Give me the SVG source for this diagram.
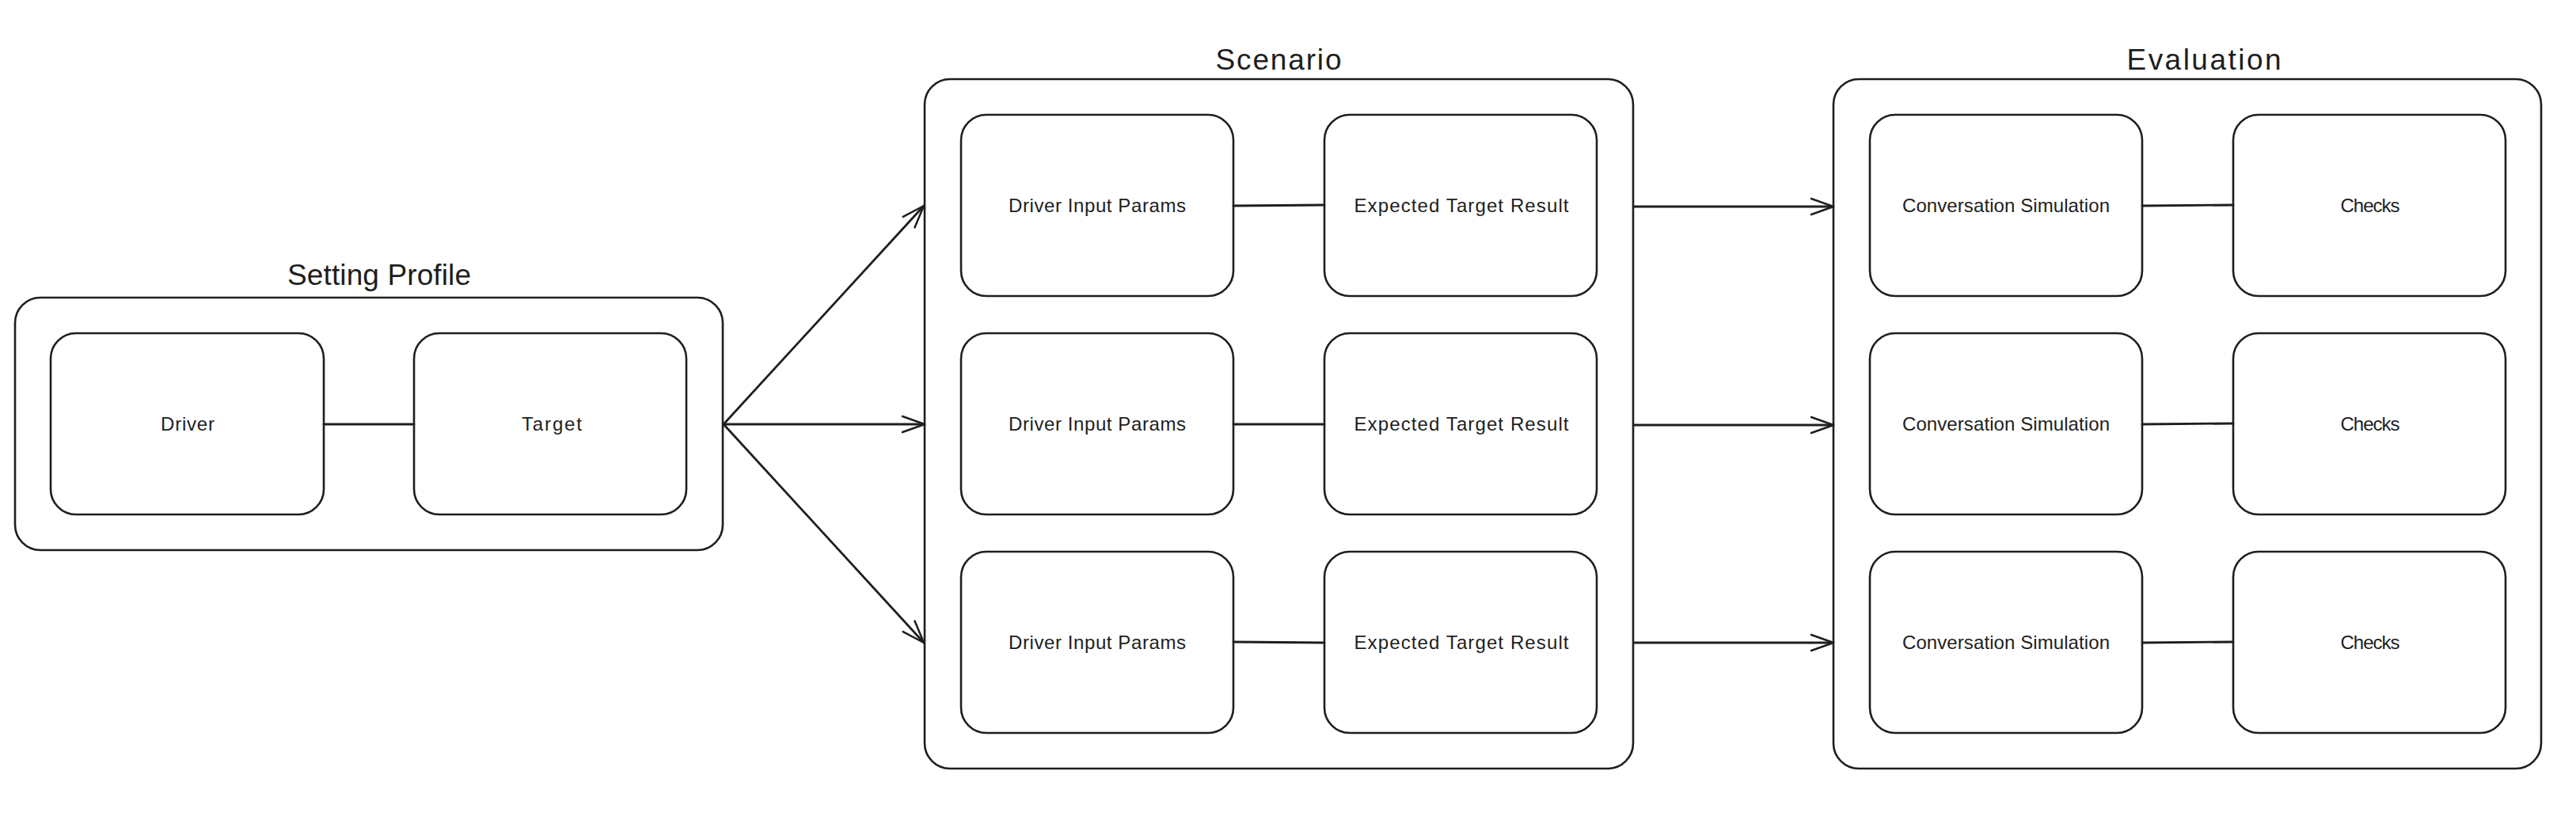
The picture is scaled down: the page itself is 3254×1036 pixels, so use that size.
<svg xmlns="http://www.w3.org/2000/svg" width="3254" height="1036" viewBox="0 0 3254 1036">
<style>
.box{fill:#ffffff;stroke:#1e1e1e;stroke-width:2.6}
.lbl{font-family:"Liberation Sans",Arial,sans-serif;font-size:24px;fill:#1e1e1e;text-anchor:middle}
.ttl{font-family:"Liberation Sans",Arial,sans-serif;font-size:37px;fill:#1e1e1e;text-anchor:middle}
.ln{stroke:#1e1e1e;stroke-width:2.8;fill:none;stroke-linecap:round}
</style>
<defs>
<marker id="arr" markerUnits="userSpaceOnUse" markerWidth="40" markerHeight="30" viewBox="-34 -15 40 30" refX="0" refY="0" orient="auto" overflow="visible">
<path d="M-28,-10 L0,0 L-28,10" fill="none" stroke="#1e1e1e" stroke-width="2.5" stroke-linecap="round" stroke-linejoin="round"/>
</marker>
</defs>
<rect width="3254" height="1036" fill="#ffffff"/>

<g id="setting-profile">
<rect class="box" x="19" y="376" width="894" height="319" rx="32"/>
<text class="ttl" x="479" y="360" textLength="232">Setting Profile</text>
</g>
<g id="driver"><rect class="box" x="64" y="421" width="345" height="229" rx="32"/><text class="lbl" x="237" y="544" textLength="68">Driver</text></g>
<g id="target"><rect class="box" x="523" y="421" width="344" height="229" rx="32"/><text class="lbl" x="697" y="544" textLength="76">Target</text></g>

<g id="scenario">
<rect class="box" x="1168" y="100" width="895" height="871" rx="32"/>
<text class="ttl" x="1615" y="88" textLength="159">Scenario</text>
</g>
<g id="sc-driver-1"><rect class="box" x="1214" y="145" width="344" height="229" rx="32"/><text class="lbl" x="1386" y="268" textLength="224">Driver Input Params</text></g>
<g id="sc-expected-1"><rect class="box" x="1673" y="145" width="344" height="229" rx="32"/><text class="lbl" x="1846" y="268" textLength="271">Expected Target Result</text></g>
<g id="sc-driver-2"><rect class="box" x="1214" y="421" width="344" height="229" rx="32"/><text class="lbl" x="1386" y="544" textLength="224">Driver Input Params</text></g>
<g id="sc-expected-2"><rect class="box" x="1673" y="421" width="344" height="229" rx="32"/><text class="lbl" x="1846" y="544" textLength="271">Expected Target Result</text></g>
<g id="sc-driver-3"><rect class="box" x="1214" y="697" width="344" height="229" rx="32"/><text class="lbl" x="1386" y="820" textLength="224">Driver Input Params</text></g>
<g id="sc-expected-3"><rect class="box" x="1673" y="697" width="344" height="229" rx="32"/><text class="lbl" x="1846" y="820" textLength="271">Expected Target Result</text></g>

<g id="evaluation">
<rect class="box" x="2316" y="100" width="894" height="871" rx="32"/>
<text class="ttl" x="2784" y="88" textLength="195">Evaluation</text>
</g>
<g id="ev-conv-1"><rect class="box" x="2362" y="145" width="344" height="229" rx="32"/><text class="lbl" x="2534" y="268" textLength="262">Conversation Simulation</text></g>
<g id="ev-checks-1"><rect class="box" x="2821" y="145" width="344" height="229" rx="32"/><text class="lbl" x="2994" y="268" textLength="75">Checks</text></g>
<g id="ev-conv-2"><rect class="box" x="2362" y="421" width="344" height="229" rx="32"/><text class="lbl" x="2534" y="544" textLength="262">Conversation Simulation</text></g>
<g id="ev-checks-2"><rect class="box" x="2821" y="421" width="344" height="229" rx="32"/><text class="lbl" x="2994" y="544" textLength="75">Checks</text></g>
<g id="ev-conv-3"><rect class="box" x="2362" y="697" width="344" height="229" rx="32"/><text class="lbl" x="2534" y="820" textLength="262">Conversation Simulation</text></g>
<g id="ev-checks-3"><rect class="box" x="2821" y="697" width="344" height="229" rx="32"/><text class="lbl" x="2994" y="820" textLength="75">Checks</text></g>

<g id="connectors">
<line class="ln" x1="409" y1="536" x2="523" y2="536"/>
<line class="ln" x1="1558" y1="260" x2="1673" y2="259"/>
<line class="ln" x1="1558" y1="536" x2="1673" y2="536"/>
<line class="ln" x1="1558" y1="811" x2="1673" y2="812"/>
<line class="ln" x1="2706" y1="260" x2="2821" y2="259"/>
<line class="ln" x1="2706" y1="536" x2="2821" y2="535"/>
<line class="ln" x1="2706" y1="812" x2="2821" y2="811"/>
<line class="ln" x1="914" y1="536" x2="1167" y2="260" marker-end="url(#arr)"/>
<line class="ln" x1="914" y1="536" x2="1168" y2="536" marker-end="url(#arr)"/>
<line class="ln" x1="914" y1="536" x2="1167" y2="812" marker-end="url(#arr)"/>
<line class="ln" x1="2064" y1="261" x2="2316" y2="261" marker-end="url(#arr)"/>
<line class="ln" x1="2064" y1="537" x2="2316" y2="537" marker-end="url(#arr)"/>
<line class="ln" x1="2064" y1="812" x2="2316" y2="812" marker-end="url(#arr)"/>
</g>
</svg>
